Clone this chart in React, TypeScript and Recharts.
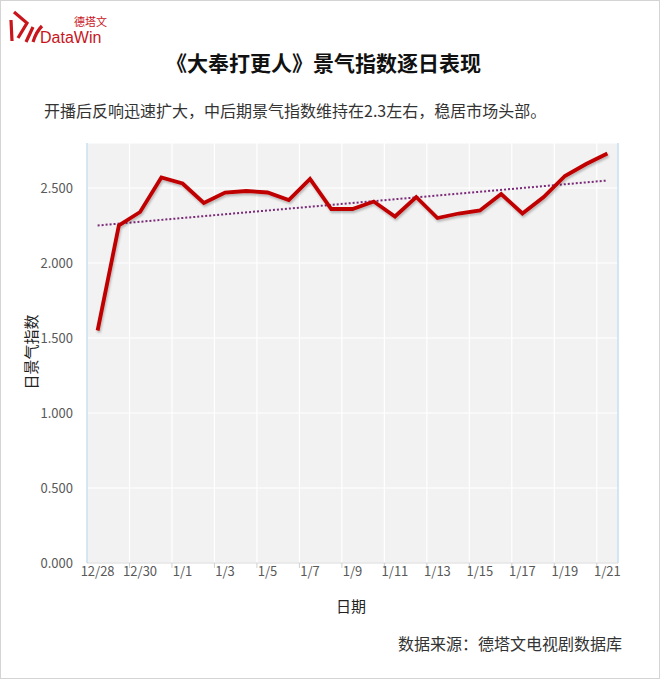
import { LineChart, Line, XAxis, YAxis, CartesianGrid, ReferenceLine } from "recharts";

const dates = [
  "12/28", "12/29", "12/30", "12/31",
  "1/1", "1/2", "1/3", "1/4", "1/5", "1/6", "1/7", "1/8", "1/9", "1/10",
  "1/11", "1/12", "1/13", "1/14", "1/15", "1/16", "1/17", "1/18", "1/19", "1/20", "1/21",
];
const dailyIndex = [
  1.55, 2.25, 2.34, 2.57, 2.53, 2.4, 2.47, 2.48, 2.47, 2.42, 2.56, 2.36, 2.36, 2.41,
  2.31, 2.44, 2.3, 2.33, 2.35, 2.46, 2.33, 2.44, 2.58, 2.66, 2.73,
];
// linear trend line, read at first and last day
const trendStart = 2.25;
const trendEnd = 2.55;
const yTicks = [0, 0.5, 1, 1.5, 2, 2.5];

const data = dates.map((date, i) => ({ idx: i, date, value: dailyIndex[i] }));
const labelTicks = dates.map((_, i) => i).filter((i) => i % 2 === 0);
const gridTicks = dates.map((_, i) => i).filter((i) => i % 2 === 1).map((i) => i + 0.5);

const FONT = '"Noto Sans CJK SC", "Noto Sans", sans-serif';
const PLOT_W = 660 - 26 - 43 - 60;
const BAND = PLOT_W / dates.length;

function DateTick({ x, y, payload }: any) {
  const v = payload.value as number;
  const bx = x + 1.5 * BAND;
  return (
    <g>
      <text x={x} y={y} dy={13} textAnchor="middle" fill="#595959" fontSize={13} fontFamily={FONT}>
        {dates[v]}
      </text>
      {v + 1.5 < dates.length && (
        <line x1={bx} x2={bx} y1={y} y2={y + 5} stroke="#d0d0d0" />
      )}
    </g>
  );
}

function Logo() {
  return (
    <div style={{ position: "absolute", left: 0, top: 0 }}>
      <svg width={110} height={50}>
        <g stroke="#c8161d" strokeWidth={3.2} fill="none" strokeLinejoin="miter" strokeLinecap="butt">
          <path d="M10 19 L11 40" />
          <path d="M13 11 L26 22 L17 37" />
          <path d="M25 41 L32 26" />
          <path d="M32 41 Q35 31 41 25" />
        </g>
        <text x={73} y={25} fontSize={11} fill="#c8161d" fontFamily={FONT}>德塔文</text>
        <text x={39} y={42} fontSize={16} fill="#c8161d" fontFamily='"Liberation Sans", Arial, sans-serif'>DataWin</text>
      </svg>
    </div>
  );
}

export default function App() {
  return (
    <div
      style={{
        position: "relative",
        width: 660,
        height: 679,
        boxSizing: "border-box",
        border: "1px solid #d4d4d4",
        background: "#fff",
        fontFamily: FONT,
        overflow: "hidden",
      }}
    >
      <style>{"body{margin:0}"}</style>
      <Logo />
      <div
        style={{
          position: "absolute", left: 0, width: 645, top: 46, textAlign: "center",
          fontSize: 21, fontWeight: 700, color: "#111",
        }}
      >
        《大奉打更人》景气指数逐日表现
      </div>
      <div style={{ position: "absolute", left: 43, top: 97, fontSize: 16, color: "#333" }}>
        开播后反响迅速扩大，中后期景气指数维持在2.3左右，稳居市场头部。
      </div>
      <div style={{ position: "absolute", right: 37, top: 630, fontSize: 16, color: "#333" }}>
        数据来源：德塔文电视剧数据库
      </div>
      <div
        style={{
          position: "absolute", left: 29, top: 351, fontSize: 15, color: "#222",
          transform: "translate(-50%, -50%) rotate(-90deg)", whiteSpace: "nowrap",
        }}
      >
        日景气指数
      </div>
      <div style={{ position: "absolute", left: 335, top: 594, fontSize: 15, color: "#222" }}>日期</div>
      <div style={{ position: "absolute", left: 0, top: 0 }}>
        <LineChart width={660} height={679} data={data} margin={{ top: 142, right: 43, left: 26, bottom: 87 }}>
          <defs>
            <filter id="lineShadow" x="-10%" y="-10%" width="120%" height="130%">
              <feDropShadow dx="1" dy="2" stdDeviation="1.2" floodColor="#000" floodOpacity="0.25" />
            </filter>
          </defs>
          <CartesianGrid xAxisId="grid" fill="#f2f2f2" stroke="#ffffff" strokeWidth={1.2} />
          <XAxis
            xAxisId="grid"
            type="number"
            dataKey="idx"
            domain={[-0.5, dates.length - 0.5]}
            ticks={gridTicks}
            hide
          />
          <XAxis
            type="number"
            dataKey="idx"
            domain={[-0.5, dates.length - 0.5]}
            ticks={labelTicks}
            interval={0}
            height={30}
            tickLine={false}
            tickSize={0}
            tickMargin={0}
            axisLine={{ stroke: "#d9d9d9" }}
            tick={<DateTick />}
          />
          <YAxis
            domain={[0, 2.8]}
            ticks={yTicks}
            width={60}
            tickLine={false}
            tickSize={6}
            tickMargin={8}
            axisLine={{ stroke: "#a9cfe8" }}
            tickFormatter={(v: number) => v.toFixed(3)}
            tick={{ fill: "#595959", fontSize: 13, fontFamily: FONT }}
          />
          <ReferenceLine x={dates.length - 0.5} stroke="#a9cfe8" />
          <ReferenceLine
            segment={[
              { x: 0, y: trendStart },
              { x: dates.length - 1, y: trendEnd },
            ]}
            stroke="#7a2a78"
            strokeWidth={2}
            strokeDasharray="2 2"
          />
          <Line
            type="linear"
            dataKey="value"
            stroke="#c00000"
            strokeWidth={3.8}
            dot={false}
            activeDot={false}
            filter="url(#lineShadow)"
            isAnimationActive={false}
          />
        </LineChart>
      </div>
    </div>
  );
}
